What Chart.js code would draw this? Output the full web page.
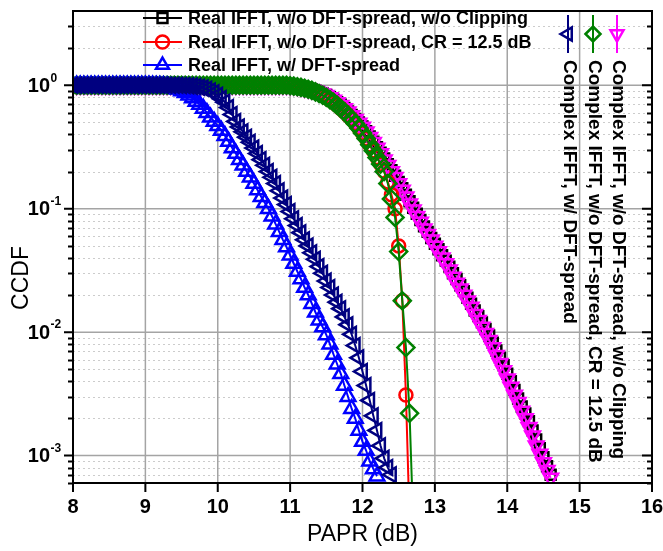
<!DOCTYPE html>
<html>
<head>
<meta charset="utf-8">
<script src="https://cdn.jsdelivr.net/npm/chart.js@4.4.0/dist/chart.umd.min.js"></script>
<style>
    html, body { margin: 0; padding: 0; background: #fff; }
</style>
</head>
<body>
<canvas id="myChart" width="663" height="551"></canvas>
<script>
// PAPR grid (dB), step 0.05
const papr = [
    8, 8.05, 8.1, 8.15, 8.2, 8.25, 8.3, 8.35, 8.4, 8.45, 8.5, 8.55, 8.6, 8.65, 8.7, 8.75, 8.8, 8.85, 8.9, 8.95,
    9, 9.05, 9.1, 9.15, 9.2, 9.25, 9.3, 9.35, 9.4, 9.45, 9.5, 9.55, 9.6, 9.65, 9.7, 9.75, 9.8, 9.85, 9.9, 9.95,
    10, 10.05, 10.1, 10.15, 10.2, 10.25, 10.3, 10.35, 10.4, 10.45, 10.5, 10.55, 10.6, 10.65, 10.7, 10.75, 10.8, 10.85, 10.9, 10.95,
    11, 11.05, 11.1, 11.15, 11.2, 11.25, 11.3, 11.35, 11.4, 11.45, 11.5, 11.55, 11.6, 11.65, 11.7, 11.75, 11.8, 11.85, 11.9, 11.95,
    12, 12.05, 12.1, 12.15, 12.2, 12.25, 12.3, 12.35, 12.4, 12.45, 12.5, 12.55, 12.6, 12.65, 12.7, 12.75, 12.8, 12.85, 12.9, 12.95,
    13, 13.05, 13.1, 13.15, 13.2, 13.25, 13.3, 13.35, 13.4, 13.45, 13.5, 13.55, 13.6, 13.65, 13.7, 13.75, 13.8, 13.85, 13.9, 13.95,
    14, 14.05, 14.1, 14.15, 14.2, 14.25, 14.3, 14.35, 14.4, 14.45, 14.5, 14.55, 14.6
];

// CCDF values, one per papr point (series stop where the curve leaves the plot)
const realNoSpread = [
    1, 1, 1, 1, 1, 1, 1, 1, 1, 1, 1, 1, 1, 1, 1, 1, 1, 1, 1, 1,
    1, 1, 1, 1, 1, 1, 1, 1, 1, 1, 1, 1, 1, 1, 1, 1, 1, 1, 1, 1,
    1, 1, 1, 1, 1, 1, 1, 1, 1, 1, 1, 1, 1, 1, 1, 1, 1, 1, 1, 1,
    0.996, 0.99, 0.982, 0.97, 0.955, 0.94, 0.925, 0.905, 0.885, 0.86, 0.835, 0.80, 0.765, 0.73, 0.695, 0.655, 0.615, 0.575, 0.535, 0.50,
    0.465, 0.425, 0.385, 0.35, 0.315, 0.285, 0.255, 0.23, 0.205, 0.185, 0.165, 0.147, 0.13, 0.115, 0.102, 0.091, 0.081, 0.072, 0.065, 0.058,
    0.052, 0.047, 0.042, 0.038, 0.034, 0.030, 0.027, 0.024, 0.0215, 0.019, 0.017, 0.015, 0.0135, 0.012, 0.0106, 0.0094, 0.0082, 0.0071, 0.0062, 0.0054,
    0.0046, 0.004, 0.0034, 0.0029, 0.0025, 0.0022, 0.0019, 0.0016, 0.00135, 0.00115, 0.00097, 0.00082, 0.0007
];

const realClip = [
    1, 1, 1, 1, 1, 1, 1, 1, 1, 1, 1, 1, 1, 1, 1, 1, 1, 1, 1, 1,
    1, 1, 1, 1, 1, 1, 1, 1, 1, 1, 1, 1, 1, 1, 1, 1, 1, 1, 1, 1,
    1, 1, 1, 1, 1, 1, 1, 1, 1, 1, 1, 1, 1, 1, 1, 1, 1, 1, 1, 1,
    0.993, 0.985, 0.975, 0.962, 0.945, 0.93, 0.91, 0.885, 0.86, 0.83, 0.80, 0.765, 0.73, 0.69, 0.65, 0.61, 0.57, 0.53, 0.49, 0.45,
    0.41, 0.37, 0.33, 0.295, 0.26, 0.23, 0.20, 0.165, 0.13, 0.1, 0.05, 0.018, 0.0031, 0.0003
];

const realSpread = [
    1, 1, 1, 1, 1, 1, 1, 1, 1, 1, 1, 1, 1, 1, 1, 1, 1, 1, 1, 1,
    1, 1, 0.999, 0.998, 0.995, 0.99, 0.982, 0.97, 0.955, 0.93, 0.90, 0.87, 0.83, 0.79, 0.74, 0.70, 0.65, 0.60, 0.55, 0.51,
    0.47, 0.43, 0.39, 0.35, 0.31, 0.28, 0.25, 0.225, 0.20, 0.18, 0.16, 0.142, 0.125, 0.112, 0.10, 0.087, 0.075, 0.065, 0.056, 0.049,
    0.042, 0.036, 0.031, 0.027, 0.023, 0.020, 0.017, 0.0145, 0.0125, 0.011, 0.0095, 0.008, 0.0066, 0.0055, 0.0046, 0.0037, 0.0030, 0.0024, 0.0020, 0.0016,
    0.0013, 0.0011, 0.0009, 0.00078, 0.00068
];

const complexSpread = [
    1, 1, 1, 1, 1, 1, 1, 1, 1, 1, 1, 1, 1, 1, 1, 1, 1, 1, 1, 1,
    1, 1, 1, 1, 1, 1, 1, 1, 1, 1, 0.998, 0.996, 0.992, 0.985, 0.977, 0.965, 0.95, 0.93, 0.90, 0.87,
    0.83, 0.78, 0.73, 0.66, 0.58, 0.51, 0.46, 0.42, 0.38, 0.345, 0.31, 0.28, 0.25, 0.225, 0.20, 0.18, 0.16, 0.14, 0.122, 0.108,
    0.095, 0.083, 0.073, 0.064, 0.056, 0.050, 0.044, 0.039, 0.034, 0.030, 0.026, 0.023, 0.020, 0.0175, 0.0155, 0.0133, 0.0115, 0.0096, 0.0078, 0.0062,
    0.0048, 0.0037, 0.0028, 0.0021, 0.0016, 0.0012, 0.00095, 0.0008, 0.0007
];

const complexClip = [
    1, 1, 1, 1, 1, 1, 1, 1, 1, 1, 1, 1, 1, 1, 1, 1, 1, 1, 1, 1,
    1, 1, 1, 1, 1, 1, 1, 1, 1, 1, 1, 1, 1, 1, 1, 1, 1, 1, 1, 1,
    1, 1, 1, 1, 1, 1, 1, 1, 1, 1, 1, 1, 1, 1, 1, 1, 1, 1, 1, 1,
    0.993, 0.985, 0.975, 0.962, 0.945, 0.93, 0.91, 0.885, 0.86, 0.83, 0.80, 0.765, 0.73, 0.69, 0.65, 0.61, 0.57, 0.53, 0.49, 0.45,
    0.41, 0.37, 0.33, 0.295, 0.26, 0.23, 0.20, 0.16, 0.12, 0.085, 0.045, 0.018, 0.0075, 0.0022, 0.0003
];

const complexNoSpread = [
    1, 1, 1, 1, 1, 1, 1, 1, 1, 1, 1, 1, 1, 1, 1, 1, 1, 1, 1, 1,
    1, 1, 1, 1, 1, 1, 1, 1, 1, 1, 1, 1, 1, 1, 1, 1, 1, 1, 1, 1,
    1, 1, 1, 1, 1, 1, 1, 1, 1, 1, 1, 1, 1, 1, 1, 1, 1, 1, 1, 1,
    0.995, 0.99, 0.98, 0.967, 0.95, 0.935, 0.92, 0.90, 0.88, 0.855, 0.83, 0.795, 0.76, 0.725, 0.69, 0.65, 0.61, 0.57, 0.53, 0.495,
    0.46, 0.42, 0.38, 0.345, 0.31, 0.28, 0.25, 0.225, 0.20, 0.18, 0.16, 0.142, 0.125, 0.11, 0.098, 0.087, 0.078, 0.069, 0.062, 0.056,
    0.050, 0.045, 0.040, 0.036, 0.032, 0.028, 0.025, 0.0225, 0.020, 0.018, 0.016, 0.014, 0.0125, 0.011, 0.0098, 0.0086, 0.0075, 0.0065, 0.0056, 0.0049,
    0.0042, 0.0036, 0.0031, 0.0027, 0.0023, 0.0020, 0.0017, 0.00145, 0.0012, 0.00103, 0.00088, 0.00076, 0.00066
];

const xTicks = [8, 9, 10, 11, 12, 13, 14, 15, 16];
const yDecades = [1, 0.1, 0.01, 0.001];
const yExponents = ['0', '-1', '-2', '-3'];

const FONT = '"Liberation Sans", Arial, sans-serif';

function series(label, values, color, style, rotation, radius, order) {
    return {
        label: label,
        data: values.map((v, i) => ({ x: papr[i], y: v })),
        borderColor: color,
        backgroundColor: 'rgba(0,0,0,0)',
        borderWidth: 2,
        pointStyle: style,
        pointRotation: rotation,
        pointRadius: radius,
        pointBorderWidth: 2.5,
        pointBorderColor: color,
        pointBackgroundColor: 'rgba(0,0,0,0)',
        fill: false,
        tension: 0,
        order: order
    };
}

const datasets = [
    series('Real IFFT, w/o DFT-spread, w/o Clipping', realNoSpread, '#000000', 'rect', 0, 7, 6),
    series('Real IFFT, w/o DFT-spread, CR = 12.5 dB', realClip, '#ff0000', 'circle', 0, 6.5, 4),
    series('Real IFFT, w/ DFT-spread', realSpread, '#0000ff', 'triangle', 0, 8.5, 2),
    series('Complex IFFT, w/ DFT-spread', complexSpread, '#000080', 'triangle', -90, 8.5, 1),
    series('Complex IFFT, w/o DFT-spread, CR = 12.5 dB', complexClip, '#008000', 'rectRot', 0, 8.5, 3),
    series('Complex IFFT, w/o DFT-spread, w/o Clipping', complexNoSpread, '#ff00ff', 'triangle', 180, 8.5, 5)
];

function minorValues(min, max) {
    const out = [];
    for (let e = -4; e <= 0; e++) {
        for (let m = 2; m <= 9; m++) {
            const v = m * Math.pow(10, e);
            if (v > min && v < max) out.push(v);
        }
    }
    return out;
}

function hLine(ctx, a, py) {
    ctx.beginPath();
    ctx.moveTo(a.left, py);
    ctx.lineTo(a.right, py);
    ctx.stroke();
}

function legendMarker(ctx, ds, cx, cy, radius) {
    ctx.strokeStyle = ds.borderColor;
    ctx.fillStyle = 'rgba(0,0,0,0)';
    ctx.lineWidth = 2.5;
    Chart.helpers.drawPoint(ctx, {
        pointStyle: ds.pointStyle,
        rotation: ds.pointRotation,
        radius: radius,
        borderWidth: 2.5
    }, cx, cy);
}

const axesPlugin = {
    id: 'axesPlugin',
    beforeDatasetsDraw(chart) {
        const ctx = chart.ctx, a = chart.chartArea;
        const x = chart.scales.x, y = chart.scales.y;
        ctx.save();
        // minor grid
        ctx.lineWidth = 1;
        ctx.strokeStyle = '#cccccc';
        ctx.setLineDash([2, 3]);
        minorValues(y.min, y.max).forEach(v => hLine(ctx, a, Math.round(y.getPixelForValue(v)) + 0.5));
        // major grid
        ctx.setLineDash([]);
        ctx.strokeStyle = '#a4a4a4';
        ctx.lineWidth = 1.5;
        yDecades.forEach(v => hLine(ctx, a, y.getPixelForValue(v)));
        xTicks.forEach(v => {
            const px = x.getPixelForValue(v);
            ctx.beginPath();
            ctx.moveTo(px, a.top);
            ctx.lineTo(px, a.bottom);
            ctx.stroke();
        });
        ctx.restore();
    },
    afterDatasetsDraw(chart) {
        const ctx = chart.ctx, a = chart.chartArea;
        const x = chart.scales.x, y = chart.scales.y;
        const ds = chart.data.datasets;
        ctx.save();

        // frame
        ctx.strokeStyle = '#000';
        ctx.lineWidth = 2;
        ctx.strokeRect(a.left, a.top, a.right - a.left, a.bottom - a.top);

        // tick marks
        ctx.beginPath();
        yDecades.forEach(v => {
            const py = y.getPixelForValue(v);
            ctx.moveTo(a.left - 9, py); ctx.lineTo(a.left, py);
            ctx.moveTo(a.right - 10, py); ctx.lineTo(a.right, py);
        });
        minorValues(y.min, y.max).forEach(v => {
            const py = Math.round(y.getPixelForValue(v)) + 0.5;
            ctx.moveTo(a.left - 5, py); ctx.lineTo(a.left, py);
            ctx.moveTo(a.right - 5, py); ctx.lineTo(a.right, py);
        });
        xTicks.forEach(v => {
            const px = x.getPixelForValue(v);
            ctx.moveTo(px, a.bottom); ctx.lineTo(px, a.bottom + 9);
        });
        ctx.stroke();

        // tick labels
        ctx.fillStyle = '#000';
        ctx.textBaseline = 'middle';
        ctx.textAlign = 'center';
        ctx.font = 'bold 20px ' + FONT;
        xTicks.forEach(v => ctx.fillText(String(v), x.getPixelForValue(v), a.bottom + 24));
        yDecades.forEach((v, i) => {
            const py = y.getPixelForValue(v);
            ctx.font = 'bold 20px ' + FONT;
            ctx.textAlign = 'right';
            ctx.fillText('10', a.left - 23, py + 1);
            ctx.font = 'bold 12px ' + FONT;
            ctx.textAlign = 'left';
            ctx.fillText(yExponents[i], a.left - 22.5, py - 7);
        });

        // axis titles
        ctx.font = '23px ' + FONT;
        ctx.textAlign = 'center';
        ctx.fillText('PAPR (dB)', (a.left + a.right) / 2, 535);
        ctx.save();
        ctx.translate(22, 278);
        ctx.rotate(-Math.PI / 2);
        ctx.fillText('CCDF', 0, 0);
        ctx.restore();

        // legend, horizontal part
        const rows = [18, 42, 65];
        [0, 1, 2].forEach((k, r) => {
            const d = ds[k];
            const cy = rows[r];
            ctx.strokeStyle = d.borderColor;
            ctx.lineWidth = 2;
            ctx.beginPath();
            ctx.moveTo(143, cy); ctx.lineTo(182, cy);
            ctx.stroke();
            legendMarker(ctx, d, 162.5, cy, Math.min(d.pointRadius, 7.5));
            ctx.fillStyle = '#000';
            ctx.font = 'bold 18px ' + FONT;
            ctx.textAlign = 'left';
            ctx.textBaseline = 'middle';
            ctx.fillText(d.label, 188, cy + 1);
        });

        // legend, rotated part
        const cols = [568, 593, 617];
        [3, 4, 5].forEach((k, c) => {
            const d = ds[k];
            const cx = cols[c];
            ctx.strokeStyle = d.borderColor;
            ctx.lineWidth = 2;
            ctx.beginPath();
            ctx.moveTo(cx, 15); ctx.lineTo(cx, 53);
            ctx.stroke();
            legendMarker(ctx, d, cx, 34, 7.5);
            ctx.save();
            ctx.translate(cx + 1, 60);
            ctx.rotate(Math.PI / 2);
            ctx.fillStyle = '#000';
            ctx.font = 'bold 19px ' + FONT;
            ctx.textAlign = 'left';
            ctx.textBaseline = 'middle';
            ctx.fillText(d.label, 0, 0);
            ctx.restore();
        });

        ctx.restore();
    }
};

const config = {
    type: 'line',
    data: { datasets: datasets },
    options: {
        responsive: false,
        animation: false,
        events: [],
        layout: { padding: { left: 73, top: 9, right: 9, bottom: 68 } },
        plugins: {
            legend: { display: false },
            tooltip: { enabled: false }
        },
        scales: {
            x: { type: 'linear', min: 8, max: 16, display: false },
            y: { type: 'logarithmic', min: 0.0006, max: 4, display: false }
        }
    },
    plugins: [axesPlugin]
};

var myChart = new Chart(document.getElementById('myChart'), config);
</script>
</body>
</html>
